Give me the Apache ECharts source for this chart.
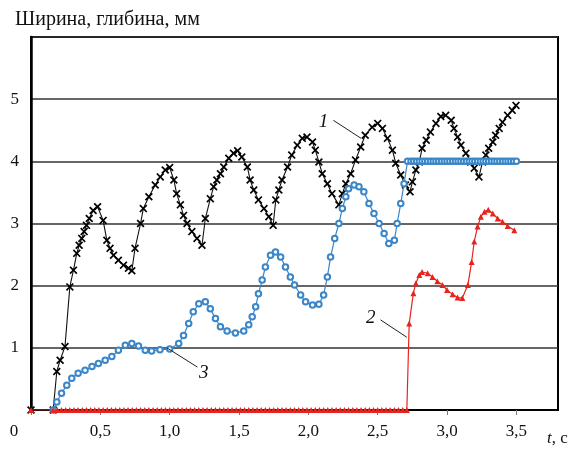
<!DOCTYPE html>
<html><head><meta charset="utf-8">
<script src="https://cdn.jsdelivr.net/npm/echarts@6/dist/echarts.min.js"></script>
<style>html,body{margin:0;padding:0;background:#fff}#c{width:581px;height:451px}</style>
</head><body><div id="c"></div>
<script>
const titleText = 'Ширина, глибина, мм';
const xTicks = [0, 0.5, 1.0, 1.5, 2.0, 2.5, 3.0, 3.5];
const yTicks = [1, 2, 3, 4, 5];

// series 1 (width, black crosses)
const series1 = [
[0,0],[0.16,0],[0.186,0.62],[0.21,0.80],[0.245,1.02],[0.28,1.98],[0.306,2.25],[0.33,2.52],[0.347,2.65],[0.366,2.76],
[0.383,2.87],[0.40,2.97],[0.42,3.08],[0.448,3.21],[0.48,3.27],[0.52,3.05],[0.547,2.73],[0.57,2.60],[0.595,2.49],[0.63,2.41],
[0.667,2.33],[0.703,2.28],[0.727,2.24],[0.75,2.60],[0.79,3.00],[0.81,3.24],[0.85,3.43],[0.896,3.62],[0.932,3.75],[0.968,3.86],
[1.0,3.90],[1.03,3.70],[1.05,3.48],[1.077,3.30],[1.10,3.13],[1.125,3.00],[1.16,2.87],[1.197,2.76],[1.233,2.65],[1.257,3.08],
[1.293,3.40],[1.317,3.59],[1.34,3.70],[1.366,3.80],[1.39,3.91],[1.426,4.05],[1.46,4.13],[1.49,4.17],[1.52,4.07],[1.56,3.91],
[1.58,3.70],[1.606,3.54],[1.64,3.38],[1.68,3.24],[1.715,3.11],[1.746,2.97],[1.765,3.38],[1.787,3.54],[1.81,3.70],[1.85,3.91],
[1.88,4.10],[1.92,4.26],[1.956,4.37],[1.99,4.39],[2.03,4.31],[2.05,4.18],[2.076,3.99],[2.10,3.80],[2.137,3.64],[2.17,3.48],
[2.22,3.30],[2.245,3.48],[2.27,3.64],[2.305,3.80],[2.34,4.02],[2.377,4.23],[2.41,4.42],[2.46,4.55],[2.50,4.61],[2.534,4.53],
[2.57,4.37],[2.606,4.18],[2.63,3.97],[2.666,3.78],[2.70,3.62],[2.733,3.51],[2.75,3.67],[2.775,3.86],[2.80,3.99],[2.82,4.21],
[2.85,4.34],[2.88,4.47],[2.92,4.61],[2.955,4.72],[2.99,4.74],[3.03,4.66],[3.05,4.53],[3.076,4.39],[3.10,4.26],[3.136,4.13],
[3.17,3.99],[3.196,3.89],[3.23,3.75],[3.256,3.99],[3.28,4.10],[3.30,4.21],[3.33,4.31],[3.35,4.42],[3.376,4.53],[3.40,4.63],
[3.437,4.74],[3.47,4.82],[3.497,4.90]
];

// series 3 (blue circles)
const series3 = [
[0.16,0],[0.186,0.13],[0.22,0.27],[0.258,0.40],[0.294,0.51],[0.34,0.59],[0.39,0.64],[0.44,0.70],[0.486,0.75],[0.535,0.80],
[0.583,0.86],[0.63,0.96],[0.68,1.04],[0.727,1.07],[0.775,1.03],[0.824,0.96],[0.87,0.95],[0.93,0.97],[1.0,0.98],[1.065,1.07],
[1.10,1.20],[1.137,1.39],[1.17,1.58],[1.21,1.71],[1.257,1.74],[1.293,1.63],[1.33,1.47],[1.366,1.34],[1.414,1.27],[1.474,1.24],
[1.534,1.27],[1.57,1.37],[1.595,1.50],[1.62,1.66],[1.64,1.87],[1.667,2.09],[1.69,2.30],[1.727,2.49],[1.763,2.54],[1.80,2.46],
[1.835,2.30],[1.87,2.14],[1.90,2.01],[1.944,1.85],[1.98,1.74],[2.03,1.69],[2.076,1.70],[2.11,1.85],[2.137,2.14],[2.16,2.46],
[2.19,2.76],[2.22,3.00],[2.245,3.24],[2.27,3.43],[2.29,3.56],[2.33,3.62],[2.365,3.59],[2.40,3.51],[2.437,3.32],[2.473,3.16],
[2.51,3.00],[2.546,2.84],[2.58,2.68],[2.62,2.73],[2.64,3.00],[2.666,3.32],[2.69,3.64],[2.715,4.00],
[2.74,4],[2.76,4],[2.78,4],[2.80,4],[2.82,4],[2.84,4],[2.86,4],[2.88,4],[2.90,4],[2.92,4],[2.94,4],[2.96,4],[2.98,4],[3.00,4],
[3.02,4],[3.04,4],[3.06,4],[3.08,4],[3.10,4],[3.12,4],[3.14,4],[3.16,4],[3.18,4],[3.20,4],[3.22,4],[3.24,4],[3.26,4],[3.28,4],
[3.30,4],[3.32,4],[3.34,4],[3.36,4],[3.38,4],[3.40,4],[3.42,4],[3.44,4],[3.46,4],[3.48,4],[3.50,4]
];

// series 2 (depth, red triangles)
const series2 = [
[0,0],[0.16,0],[0.19,0],[0.22,0],[0.25,0],[0.28,0],[0.31,0],[0.34,0],[0.37,0],[0.40,0],[0.43,0],[0.46,0],[0.49,0],[0.52,0],
[0.55,0],[0.58,0],[0.61,0],[0.64,0],[0.67,0],[0.70,0],[0.73,0],[0.76,0],[0.79,0],[0.82,0],[0.85,0],[0.88,0],[0.91,0],[0.94,0],
[0.97,0],[1.00,0],[1.03,0],[1.06,0],[1.09,0],[1.12,0],[1.15,0],[1.18,0],[1.21,0],[1.24,0],[1.27,0],[1.30,0],[1.33,0],[1.36,0],
[1.39,0],[1.42,0],[1.45,0],[1.48,0],[1.51,0],[1.54,0],[1.57,0],[1.60,0],[1.63,0],[1.66,0],[1.69,0],[1.72,0],[1.75,0],[1.78,0],
[1.81,0],[1.84,0],[1.87,0],[1.90,0],[1.93,0],[1.96,0],[1.99,0],[2.02,0],[2.05,0],[2.08,0],[2.11,0],[2.14,0],[2.17,0],[2.20,0],
[2.23,0],[2.26,0],[2.29,0],[2.32,0],[2.35,0],[2.38,0],[2.41,0],[2.44,0],[2.47,0],[2.50,0],[2.53,0],[2.56,0],[2.59,0],[2.62,0],
[2.65,0],[2.68,0],[2.71,0],
[2.727,1.39],[2.757,1.88],[2.775,2.04],[2.80,2.17],[2.82,2.22],[2.86,2.20],[2.895,2.14],[2.93,2.07],[2.967,2.01],[3.0,1.93],
[3.04,1.86],[3.076,1.81],[3.11,1.80],[3.15,2.01],[3.177,2.38],[3.196,2.71],[3.22,2.95],[3.244,3.11],[3.27,3.19],[3.297,3.22],
[3.33,3.16],[3.365,3.08],[3.40,3.03],[3.437,2.96],[3.485,2.89]
];

// annotation labels: [text, labelPoint, leaderStart, leaderEnd] in data units
const annotations = [
  ['1', [2.11, 4.63], [2.18, 4.66], [2.38, 4.37]],
  ['2', [2.45, 1.48], [2.52, 1.45], [2.71, 1.17]],
  ['3', [1.245, 0.59], [1.20, 0.69], [0.98, 1.00]]
];

const serif = 'Liberation Serif';
const crossPath = 'path://M0,1.5L1.5,0L5,3.5L8.5,0L10,1.5L6.5,5L10,8.5L8.5,10L5,6.5L1.5,10L0,8.5L3.5,5Z';

const chart = echarts.init(document.getElementById('c'), null, {renderer: 'canvas'});
const fmt = v => String(v.toFixed(1)).replace('.', ',');

chart.setOption({
  backgroundColor: '#fff',
  animation: false,
  title: {text: titleText, left: 10, top: 5, textStyle: {fontFamily: serif, fontSize: 20, fontWeight: 'normal', color: '#111'}},
  grid: {left: 31, right: 23, top: 37, bottom: 41, show: true, borderColor: '#000', borderWidth: 2, backgroundColor: '#fff'},
  xAxis: {
    type: 'value', min: 0, max: 3.8, interval: 0.5,
    name: '{i|t}, c', nameLocation: 'end', nameGap: -11,
    nameTextStyle: {fontFamily: serif, fontSize: 17, color: '#111', align: 'left', verticalAlign: 'top', padding: [20, 0, 0, 0],
      rich: {i: {fontFamily: serif, fontStyle: 'italic', fontSize: 17, color: '#111'}}},
    axisLine: {show: true, lineStyle: {color: '#000', width: 2}},
    axisTick: {show: true, length: 5, lineStyle: {color: '#777', width: 1}},
    splitLine: {show: false},
    axisLabel: {
      margin: 13, fontFamily: serif, fontSize: 17, color: '#111', showMaxLabel: false,
      formatter: v => {
        if (Math.abs(v) < 1e-9) return '{z|0}';
        if (xTicks.some(t => Math.abs(t - v) < 1e-6)) return fmt(v);
        return '';
      },
      rich: {z: {fontFamily: serif, fontSize: 17, color: '#111', padding: [0, 34, 0, 0]}}
    }
  },
  yAxis: {
    type: 'value', min: 0, max: 6, interval: 1,
    axisLine: {show: true, lineStyle: {color: '#000', width: 2.5}},
    axisTick: {show: false},
    splitLine: {show: true, lineStyle: {color: '#333', width: 1.5}},
    axisLabel: {margin: 12, fontFamily: serif, fontSize: 17, color: '#111',
      formatter: v => yTicks.indexOf(v) >= 0 ? String(v) : ''}
  },
  series: [
    {type: 'line', name: '1', data: series1, symbol: crossPath, symbolSize: 8,
     itemStyle: {color: '#000'}, lineStyle: {color: '#111', width: 1.1}, z: 3,
     markLine: {silent: true, symbol: 'none', animation: false, label: {show: false},
       lineStyle: {color: '#222', width: 1, type: 'solid'},
       data: annotations.map(a => [{coord: a[2]}, {coord: a[3]}])},
     markPoint: {silent: true, symbol: 'circle', symbolSize: 0,
       label: {show: true, position: 'inside', fontFamily: serif, fontStyle: 'italic', fontSize: 19, color: '#111',
         formatter: p => p.name},
       data: annotations.map(a => ({name: a[0], coord: a[1]}))}
    },
    {type: 'line', name: '3', data: series3, symbol: 'emptyCircle', symbolSize: 5.5,
     itemStyle: {color: '#3a86c8', borderWidth: 1.3}, lineStyle: {color: '#3a86c8', width: 1.2}, z: 4},
    {type: 'line', name: '2', data: series2, symbol: 'triangle', symbolSize: 6,
     itemStyle: {color: '#e8231d'}, lineStyle: {color: '#e8231d', width: 1.2}, z: 5}
  ]
});
</script></body></html>
